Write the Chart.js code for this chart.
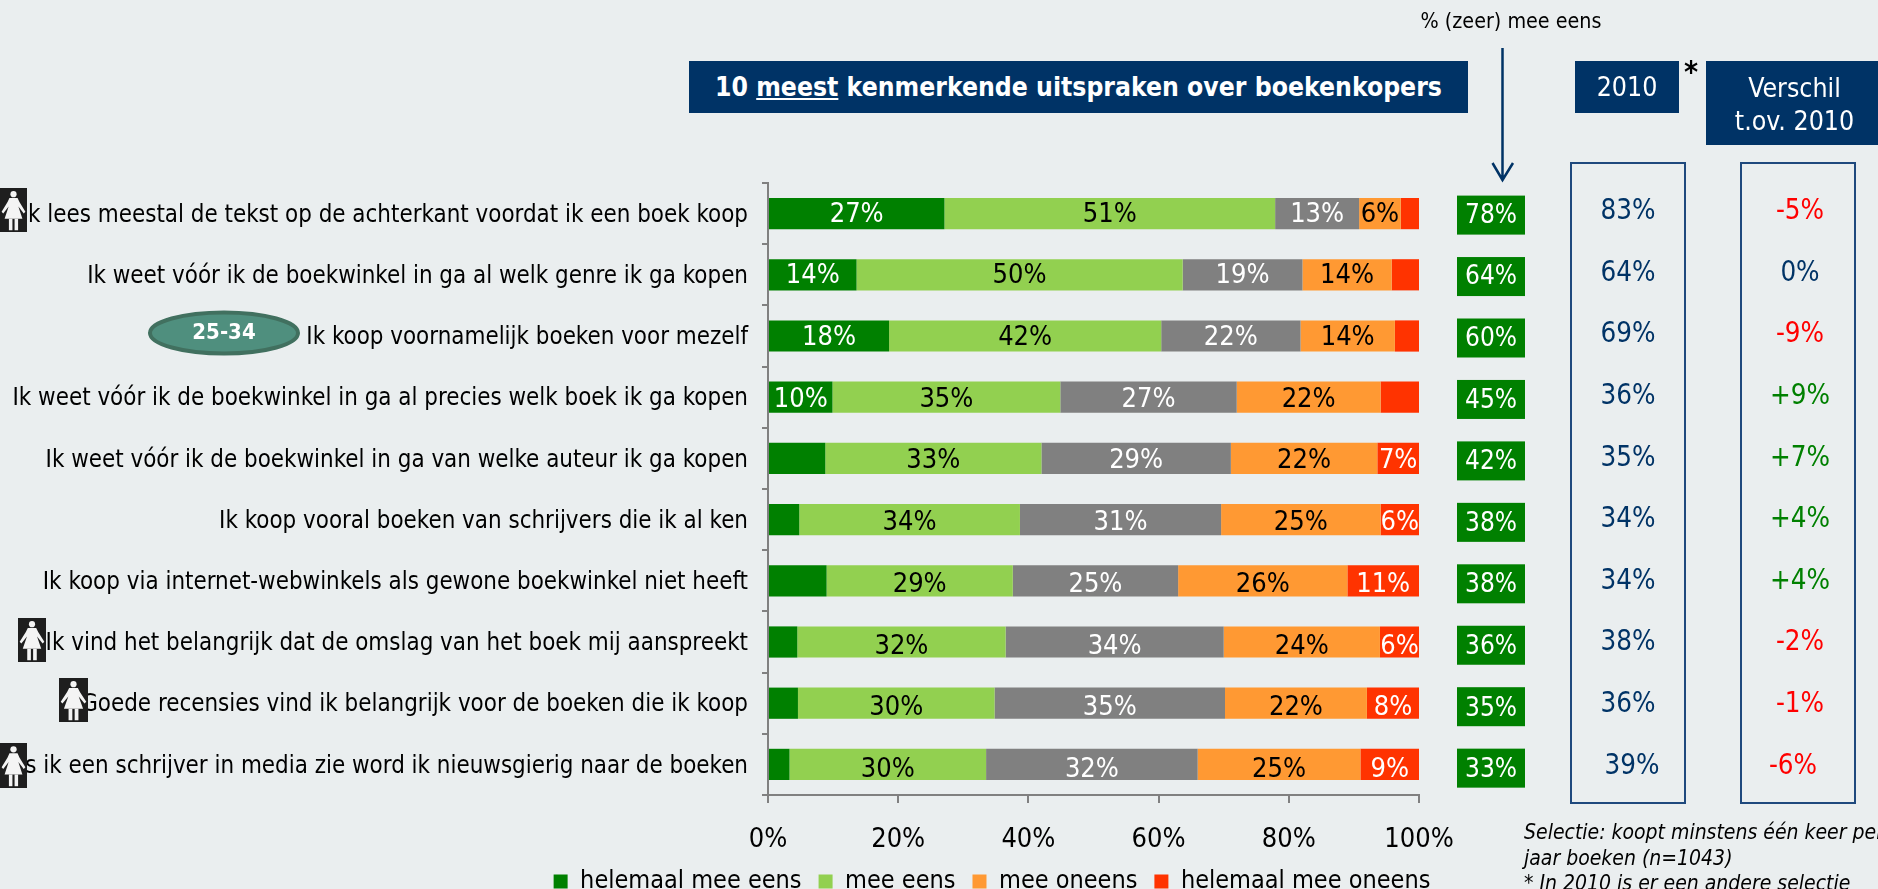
<!DOCTYPE html>
<html><head><meta charset="utf-8">
<script src="https://cdn.jsdelivr.net/npm/chart.js@4"></script>
<style>
html,body{margin:0;padding:0;background:#EAEEEF;width:1878px;height:889px;overflow:hidden}
#wrap{position:relative;width:1878px;height:889px;overflow:hidden;font-family:"DejaVu Sans Condensed","DejaVu Sans",sans-serif}
canvas{position:absolute;left:0;top:0}
.hd{position:absolute;background:#003366;color:#fff;text-align:center;box-sizing:border-box;font-size:26.5px;line-height:33px}
.note{position:absolute;font-style:italic;font-size:21px;color:#000;white-space:nowrap;line-height:25.5px}
</style></head><body>
<div id="wrap">
<canvas id="c" width="1878" height="889"></canvas>
<div class="hd" style="left:689px;top:61px;width:779px;height:52px;font-weight:bold;line-height:52px;font-size:26.3px">10 <u>meest</u> kenmerkende uitspraken over boekenkopers</div>
<div class="hd" style="left:1575px;top:61px;width:104px;height:52px;line-height:52px">2010</div>
<div class="hd" style="left:1706px;top:61px;width:172px;height:84px;padding-top:10px;padding-left:5px">Verschil<br>t.ov. 2010</div>
<div style="position:absolute;left:1684px;top:54px;font-size:30px;font-weight:bold;color:#000">*</div>
<div style="position:absolute;left:1411px;top:8px;width:200px;text-align:center;font-size:21.3px;color:#000;white-space:nowrap">% (zeer) mee eens</div>
<div class="note" style="left:1524px;top:820px">Selectie: koopt minstens één keer per<br>jaar boeken (n=1043)<br>* In 2010 is er een andere selectie</div>
</div>
<script>
const FONT = '"DejaVu Sans Condensed","DejaVu Sans",sans-serif';
const categories = [
 'Ik lees meestal de tekst op de achterkant voordat ik een boek koop',
 'Ik weet vóór ik de boekwinkel in ga al welk genre ik ga kopen',
 'Ik koop voornamelijk boeken voor mezelf',
 'Ik weet vóór ik de boekwinkel in ga al precies welk boek ik ga kopen',
 'Ik weet vóór ik de boekwinkel in ga van welke auteur ik ga kopen',
 'Ik koop vooral boeken van schrijvers die ik al ken',
 'Ik koop via internet-webwinkels als gewone boekwinkel niet heeft',
 'Ik vind het belangrijk dat de omslag van het boek mij aanspreekt',
 'Goede recensies vind ik belangrijk voor de boeken die ik koop',
 'Als ik een schrijver in media zie word ik nieuwsgierig naar de boeken'
];
const helemaalEens  = [27.1,13.6,18.6,9.9,8.8,4.8,9.0,4.5,4.6,3.3];
const meeEens       = [50.8,50.1,41.8,35.0,33.2,33.9,28.6,32.0,30.2,30.2];
const neutraal      = [12.9,18.4,21.4,27.1,29.1,30.9,25.4,33.5,35.4,32.5];
const meeOneens     = [6.4,13.7,14.5,22.1,22.5,24.5,26.0,24.0,21.8,25.0];
const helemaalOneens= [2.8,4.2,3.7,5.9,6.4,5.9,11.0,6.0,8.0,9.0];
const labelsHelemaalEens  = ['27%','14%','18%','10%','','','','','',''];
const labelsMeeEens       = ['51%','50%','42%','35%','33%','34%','29%','32%','30%','30%'];
const labelsNeutraal      = ['13%','19%','22%','27%','29%','31%','25%','34%','35%','32%'];
const labelsMeeOneens     = ['6%','14%','14%','22%','22%','25%','26%','24%','22%','25%'];
const labelsHelemaalOneens= ['','','','','7%','6%','11%','6%','8%','9%'];
const totalEens = ['78%','64%','60%','45%','42%','38%','38%','36%','35%','33%'];
const values2010 = ['83%','64%','69%','36%','35%','34%','34%','38%','36%','39%'];
const verschil = ['-5%','0%','-9%','+9%','+7%','+4%','+4%','-2%','-1%','-6%'];
const xTicks = [0,20,40,60,80,100];

const NAVY='#003366', BOXLINE='#1F497D';
function diffColor(s){return s[0]==='-'?'#FF0000':s[0]==='+'?'#008000':NAVY;}

function woman(ctx,x,y,w,h){
  ctx.save();
  ctx.fillStyle='#1E1E1E';ctx.fillRect(x,y,w,h);
  const cx=x+w/2;
  ctx.fillStyle='#F4F4F4';
  ctx.beginPath();ctx.arc(cx,y+h*0.14,h*0.07,0,Math.PI*2);ctx.fill();
  ctx.beginPath();
  ctx.moveTo(cx-w*0.15,y+h*0.23);ctx.lineTo(cx+w*0.15,y+h*0.23);
  ctx.lineTo(cx+w*0.22,y+h*0.32);ctx.lineTo(cx+w*0.44,y+h*0.54);ctx.lineTo(cx+w*0.38,y+h*0.58);
  ctx.lineTo(cx+w*0.18,y+h*0.42);ctx.lineTo(cx+w*0.33,y+h*0.70);
  ctx.lineTo(cx-w*0.33,y+h*0.70);ctx.lineTo(cx-w*0.18,y+h*0.42);
  ctx.lineTo(cx-w*0.38,y+h*0.58);ctx.lineTo(cx-w*0.44,y+h*0.54);ctx.lineTo(cx-w*0.22,y+h*0.32);
  ctx.closePath();ctx.fill();
  ctx.fillRect(cx-w*0.17,y+h*0.70,w*0.13,h*0.26);
  ctx.fillRect(cx+w*0.04,y+h*0.70,w*0.13,h*0.26);
  ctx.restore();
}

const overlay={
  id:'overlay',
  afterLayout(chart){
    const lg=chart.legend;
    const shift=992-(lg.left+lg.right)/2;
    lg.left+=shift;lg.right+=shift;
    const h=lg.bottom-lg.top; lg.top=852;lg.bottom=852+h;
    chart.scales.x.bottom=885;
  },
  afterDatasetsDraw(chart){
    const ctx=chart.ctx,ys=chart.scales.y;
    ctx.save();
    ctx.textBaseline='middle';ctx.textAlign='center';
    ctx.font='27px '+FONT;
    // segment labels
    chart.data.datasets.forEach((ds,di)=>{
      const meta=chart.getDatasetMeta(di);
      meta.data.forEach((bar,i)=>{
        const t=ds.segLabels[i]; if(!t)return;
        ctx.fillStyle=ds.textColor;
        ctx.fillText(t,(bar.x+bar.base)/2,bar.y+1+i*0.5);
      });
    });
    // total boxes and columns
    categories.forEach((c,i)=>{
      const y=ys.getPixelForValue(i);
      ctx.fillStyle='#008000';ctx.fillRect(1457,y-18+i*0.25,68,39);
      ctx.font='26px '+FONT;
      ctx.fillStyle='#fff';ctx.fillText(totalEens[i],1491,y+2.5+i*0.4);
      ctx.font='27.5px '+FONT;
      ctx.fillStyle=NAVY;ctx.fillText(values2010[i],i===9?1632:1628,y-1.5+i*0.4);
      ctx.fillStyle=diffColor(verschil[i]);ctx.fillText(verschil[i],i===9?1793:1800,y-1.5+i*0.4);
    });
    // column frames
    ctx.strokeStyle=BOXLINE;ctx.lineWidth=2;
    ctx.strokeRect(1571,163,114,640);ctx.strokeRect(1741,163,114,640);
    // arrow
    ctx.strokeStyle=NAVY;ctx.lineWidth=2.5;
    ctx.beginPath();ctx.moveTo(1502.5,48);ctx.lineTo(1502.5,180);
    ctx.moveTo(1492.5,163);ctx.lineTo(1502.5,180);ctx.lineTo(1513,163);ctx.stroke();
    // icons
    woman(ctx,0,188,27,44);
    woman(ctx,18,618,28,44);
    woman(ctx,59,678,29,44);
    woman(ctx,0,743,27,45);
    // oval
    ctx.beginPath();ctx.ellipse(224,333,74,20.5,0,0,Math.PI*2);
    ctx.fillStyle='#4F8F7E';ctx.fill();ctx.strokeStyle='#41705F';ctx.lineWidth=4;ctx.stroke();
    ctx.fillStyle='#fff';ctx.font='bold 22px '+FONT;ctx.fillText('25-34',224,333);
    ctx.restore();
  }
};

new Chart(document.getElementById('c'),{
  type:'bar',
  data:{labels:categories,datasets:[
    {label:'helemaal mee eens',data:helemaalEens,backgroundColor:'#008000',segLabels:labelsHelemaalEens,textColor:'#fff'},
    {label:'mee eens',data:meeEens,backgroundColor:'#92D050',segLabels:labelsMeeEens,textColor:'#000'},
    {label:'neutraal',data:neutraal,backgroundColor:'#808080',segLabels:labelsNeutraal,textColor:'#fff'},
    {label:'mee oneens',data:meeOneens,backgroundColor:'#FF9933',segLabels:labelsMeeOneens,textColor:'#000'},
    {label:'helemaal mee oneens',data:helemaalOneens,backgroundColor:'#FF3300',segLabels:labelsHelemaalOneens,textColor:'#fff'}
  ]},
  options:{
    indexAxis:'y',responsive:false,animation:false,
    categoryPercentage:1,barPercentage:0.51,
    layout:{padding:{top:183,right:459,bottom:0,left:0}},
    plugins:{
      tooltip:{enabled:false},
      legend:{position:'bottom',
        labels:{boxWidth:14,boxHeight:14,padding:17,color:'#000',font:{family:FONT,size:25},
          filter:(it)=>it.text!=='neutraal'}}
    },
    scales:{
      x:{stacked:true,min:0,max:100,
        afterFit(s){s.height=94-(s.chart.legend?s.chart.legend.height:0);},
        afterBuildTicks(s){s.ticks=xTicks.map(v=>({value:v}));},
        border:{color:'#808080',width:2},
        grid:{drawOnChartArea:false,color:'#808080',lineWidth:2,tickLength:8},
        ticks:{color:'#000',padding:21,maxRotation:0,font:{family:FONT,size:27},callback:v=>v+'%'}},
      y:{stacked:true,
        afterFit(s){s.width=768;},
        border:{color:'#808080',width:2},
        grid:{drawOnChartArea:false,color:'#808080',lineWidth:2,tickLength:6},
        ticks:{color:'#000',padding:14,autoSkip:false,labelOffset:2,font:{family:FONT,size:23.9}}}
    }
  },
  plugins:[overlay]
});
</script>
</body></html>
